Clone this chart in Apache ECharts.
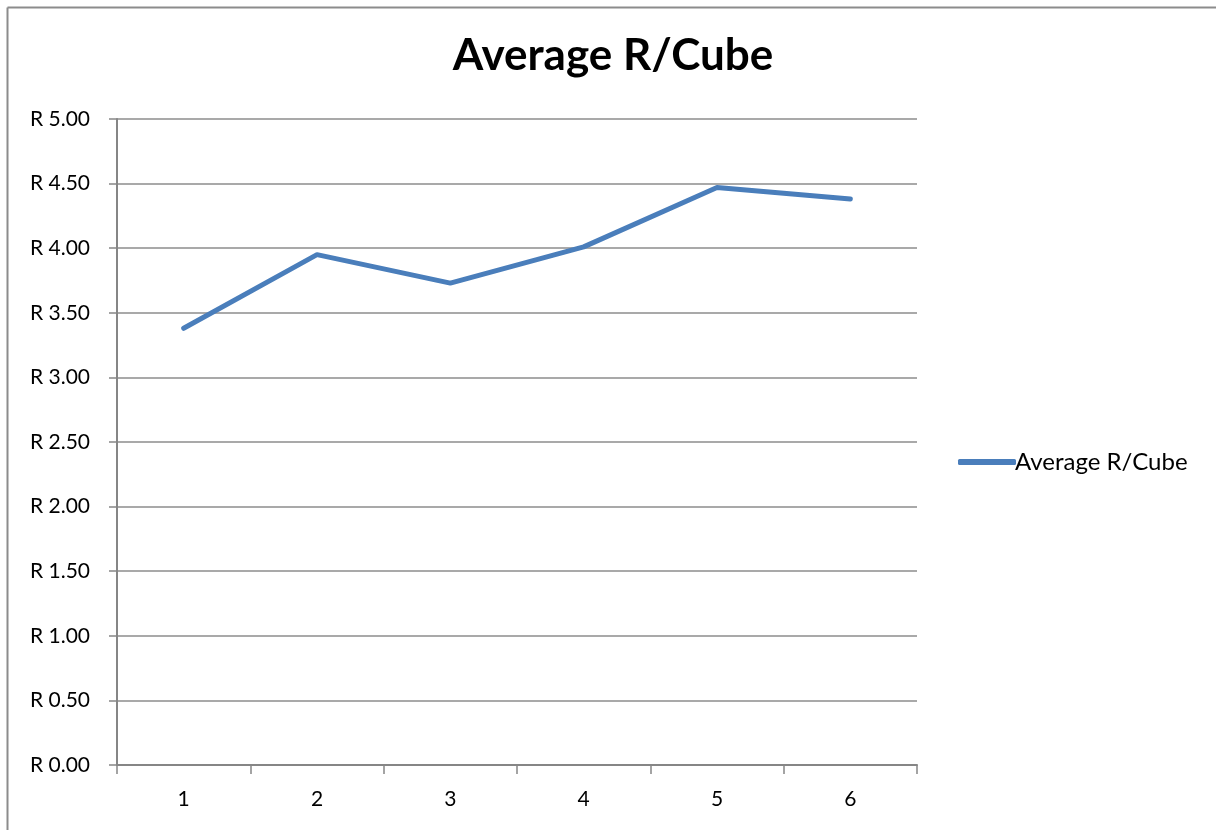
<!DOCTYPE html>
<html><head><meta charset="utf-8">
<script src="https://cdn.jsdelivr.net/npm/echarts@6/dist/echarts.min.js"></script>
<style>html,body{margin:0;padding:0;background:#fff}#c{width:1216px;height:830px}</style>
</head><body><div id="c"></div>
<script>
const categories = ['1','2','3','4','5','6'];
const seriesName = 'Average R/Cube';
const values = [3.38, 3.95, 3.73, 4.01, 4.47, 4.38];
const yTicks = [0, 0.5, 1, 1.5, 2, 2.5, 3, 3.5, 4, 4.5, 5];

const font = 'Lato, "Open Sans", sans-serif';
const chart = echarts.init(document.getElementById('c'), null, {renderer:'canvas'});
chart.setOption({
  animation: false,
  backgroundColor: '#fff',
  graphic: [
    {type:'line', shape:{x1:7.5,y1:7.5,x2:1216,y2:7.5}, style:{stroke:'#8c8c8c', lineWidth:2}, silent:true},
    {type:'line', shape:{x1:7.5,y1:7.5,x2:7.5,y2:830}, style:{stroke:'#8c8c8c', lineWidth:2}, silent:true}
  ],
  title: {text: 'Average R/Cube', left: 608, top: 29, textAlign:'center',
    textStyle:{fontFamily:font, fontSize:44, fontWeight:'bold', color:'#000'}},
  legend: {data:[seriesName], left: 953, top: 445, orient:'vertical', itemWidth:58, itemHeight:6, itemGap:0,
    icon: 'roundRect', textStyle:{fontFamily:font, fontSize:24, color:'#000', padding:[0,0,0,-6]}},
  grid: {left:117, top:119, width:800, height:646, containLabel:false},
  xAxis: {type:'category', data:categories, boundaryGap:true,
    axisLine:{lineStyle:{color:'#868686', width:2}},
    axisTick:{show:true, length:9, lineStyle:{color:'#868686', width:1.5}, alignWithLabel:false},
    axisLabel:{fontFamily:font, fontSize:21, color:'#000', margin:24}},
  yAxis: {type:'value', min:0, max:5, interval:0.5,
    axisLine:{show:true, lineStyle:{color:'#868686', width:2}},
    axisTick:{show:true, length:8, lineStyle:{color:'#868686', width:1.5}},
    splitLine:{lineStyle:{color:'#8c8c8c', width:1.5}},
    axisLabel:{fontFamily:font, fontSize:21, color:'#000', margin:27,
      formatter: v => 'R ' + v.toFixed(2)}},
  series: [{name:seriesName, type:'line', data:values, symbol:'none',
    lineStyle:{color:'#4a7ebb', width:5, cap:'round', join:'round'}, itemStyle:{color:'#4a7ebb'}}]
});
</script></body></html>
